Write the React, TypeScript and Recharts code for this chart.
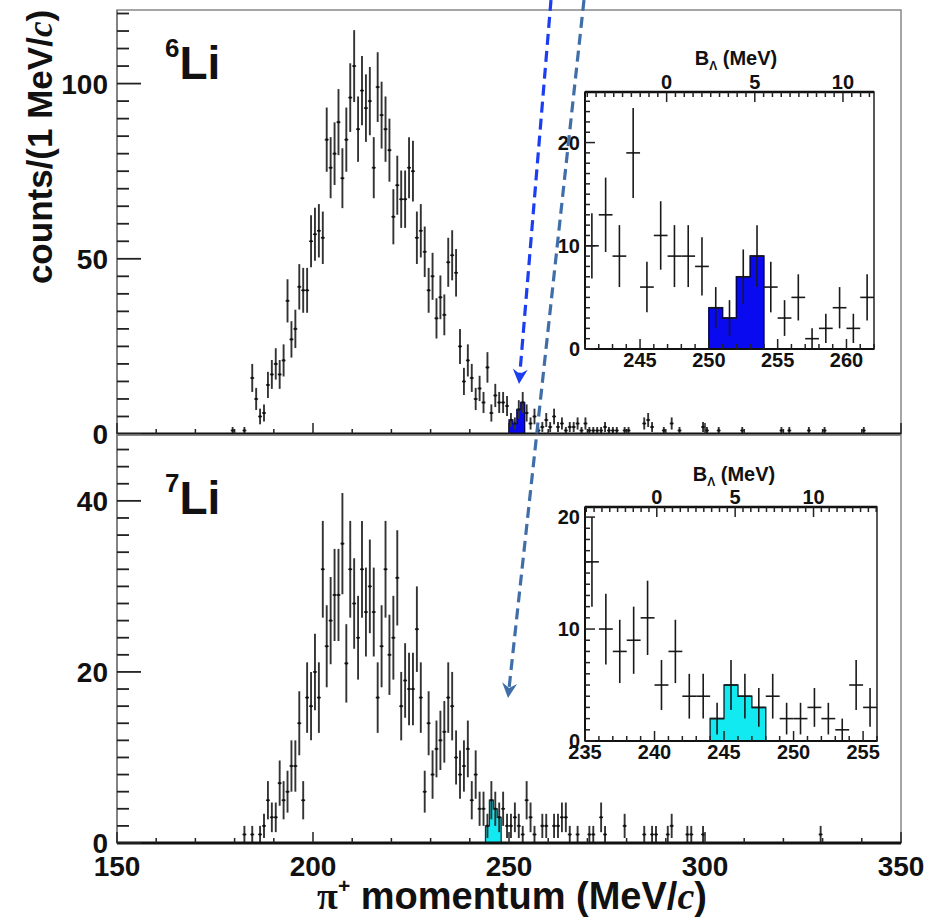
import React from 'react';
import { ComposedChart, Scatter, Area, XAxis, YAxis, ErrorBar, ReferenceArea } from 'recharts';

// pi+ momentum spectra, 1 MeV/c bins: [bin centre (MeV/c), counts]
const li6Spectrum: [number, number][] = [
  [179.5, 1], [182.5, 1], [184.5, 16], [185.5, 10], [186.5, 5], [187.5, 6], [188.5, 14], [189.5, 17],
  [190.5, 20], [191.5, 17], [192.5, 21], [193.5, 38], [194.5, 27], [195.5, 30], [196.5, 42], [197.5, 41],
  [198.5, 41], [199.5, 55], [200.5, 57], [201.5, 58], [202.5, 56], [203.5, 84], [204.5, 76], [205.5, 80],
  [206.5, 89], [207.5, 73], [208.5, 84], [209.5, 96], [210.5, 105], [211.5, 87], [212.5, 98], [213.5, 93],
  [214.5, 95], [215.5, 76], [216.5, 99], [217.5, 91], [218.5, 87], [219.5, 81], [220.5, 62], [221.5, 71],
  [222.5, 67], [223.5, 67], [224.5, 76], [225.5, 75], [226.5, 56], [227.5, 58], [228.5, 52], [229.5, 41],
  [230.5, 45], [231.5, 33], [232.5, 39], [233.5, 34], [234.5, 49], [235.5, 51], [236.5, 46], [237.5, 25],
  [238.5, 15], [239.5, 21], [240.5, 16], [241.5, 10], [242.5, 13], [243.5, 9], [244.5, 19], [245.5, 6],
  [246.5, 11], [247.5, 9], [248.5, 9], [249.5, 8], [250.5, 4], [251.5, 3], [252.5, 7], [253.5, 9],
  [254.5, 6], [255.5, 3], [256.5, 5], [257.5, 1], [258.5, 2], [259.5, 4], [260.5, 2], [261.5, 5],
  [262.5, 2], [263.5, 3], [264.5, 1], [265.5, 2], [266.5, 2], [267.5, 3], [268.5, 1], [269.5, 3],
  [270.5, 1], [271.5, 1], [272.5, 1], [273.5, 1], [274.5, 2], [275.5, 1], [276.5, 1], [277.5, 1],
  [279.5, 1], [280.5, 1], [284.5, 3], [285.5, 4], [286.5, 2], [289.5, 1], [291.5, 3], [293.5, 1],
  [299.5, 2], [300.5, 1], [303.5, 1], [309.5, 1], [319.5, 1], [321.5, 1], [326.5, 1], [330.5, 1],
  [340.5, 1],
];

const li7Spectrum: [number, number][] = [
  [182.5, 1], [184.5, 1], [186.5, 1], [187.5, 2], [188.5, 5], [189.5, 3], [190.5, 3], [191.5, 7],
  [192.5, 5], [193.5, 6], [194.5, 9], [195.5, 9], [196.5, 14], [197.5, 5], [198.5, 17], [199.5, 16],
  [200.5, 20], [201.5, 17], [202.5, 32], [203.5, 23], [204.5, 26], [205.5, 29], [206.5, 29], [207.5, 35],
  [208.5, 21], [209.5, 32], [210.5, 28], [211.5, 24], [212.5, 32], [213.5, 27], [214.5, 30], [215.5, 27],
  [216.5, 17], [217.5, 23], [218.5, 32], [219.5, 22], [220.5, 24], [221.5, 31], [222.5, 16], [223.5, 19],
  [224.5, 18], [225.5, 18], [226.5, 25], [227.5, 17], [228.5, 6], [229.5, 14], [230.5, 8], [231.5, 11],
  [232.5, 12], [233.5, 13], [234.5, 17], [235.5, 16], [236.5, 10], [237.5, 8], [238.5, 9], [239.5, 11],
  [240.5, 5], [241.5, 8], [242.5, 4], [243.5, 4], [244.5, 2], [245.5, 5], [246.5, 4], [247.5, 3],
  [248.5, 4], [249.5, 2], [250.5, 2], [251.5, 3], [252.5, 2], [253.5, 1], [254.5, 5], [255.5, 3],
  [256.5, 1], [258.5, 2], [259.5, 2], [261.5, 2], [262.5, 2], [263.5, 3], [264.5, 3], [265.5, 1],
  [267.5, 1], [270.5, 1], [271.5, 1], [273.5, 3], [274.5, 1], [279.5, 2], [284.5, 1], [286.5, 1],
  [287.5, 1], [290.5, 1], [291.5, 2], [295.5, 1], [296.5, 1], [299.5, 1], [329.5, 1],
];

// bins shaded as the hypernuclear signal
const li6PeakBins = [250.5, 251.5, 252.5, 253.5];
const li7PeakBins = [244.5, 245.5, 246.5, 247.5];

// labelled ticks
const momentumLabels = [150, 200, 250, 300, 350];
const li6CountLabels = [0, 50, 100];
const li7CountLabels = [0, 20, 40];
const li6ZoomMomentumLabels = [245, 250, 255, 260];
const li7ZoomMomentumLabels = [235, 240, 245, 250, 255];
const zoomCountLabels = [0, 10, 20];
const bindingLabels = [0, 5, 10];

const FONT = '"Liberation Sans", Arial, Helvetica, sans-serif';
const SERIF = '"Liberation Serif", "Times New Roman", serif';

const steps = (from: number, to: number, step: number) => {
  const out: number[] = [];
  for (let v = from; v <= to + 1e-9; v += step) out.push(Math.round(v * 1000) / 1000);
  return out;
};

const toPoints = (spec: [number, number][], lo = -Infinity, hi = Infinity) =>
  spec
    .filter(([p]) => p > lo && p < hi)
    .map(([p, n]) => ({ p, n, ey: Math.sqrt(n), ex: 0.5 }));

// step outline of the shaded bins, closed down to zero on both sides
const peakOutline = (spec: [number, number][], bins: number[]) => {
  const counts = bins.map((b) => spec.find(([p]) => p === b)?.[1] ?? 0);
  const pts = [{ p: bins[0] - 0.5, n: 0 }];
  bins.forEach((b, i) => pts.push({ p: b - 0.5, n: counts[i] }));
  const last = bins[bins.length - 1] + 0.5;
  pts.push({ p: last, n: counts[counts.length - 1] });
  pts.push({ p: last, n: 0 });
  return pts;
};

interface TickStyle {
  side: 'left' | 'bottom' | 'top';
  majors: number[];
  majorLen: number;
  minorLen: number;
  fontSize: number;
  gap: number;
  labels: boolean;
  width?: number;
}

const axisTick = (s: TickStyle) => (props: any) => {
  const { x, y, payload } = props;
  const v = payload.value as number;
  const major = s.majors.some((m) => Math.abs(m - v) < 1e-6);
  const len = major ? s.majorLen : s.minorLen;
  const lineProps = { stroke: '#222', strokeWidth: s.width ?? 1.5 };
  const textProps = { fontFamily: FONT, fontWeight: 700, fontSize: s.fontSize, fill: '#111' };
  if (s.side === 'left') {
    return (
      <g>
        <line x1={x} y1={y} x2={x + len} y2={y} {...lineProps} />
        {major && s.labels && (
          <text x={x - s.gap} y={y} dy="0.36em" textAnchor="end" {...textProps}>{v}</text>
        )}
      </g>
    );
  }
  if (s.side === 'top') {
    return (
      <g>
        <line x1={x} y1={y} x2={x} y2={y + len} {...lineProps} />
        {major && s.labels && (
          <text x={x} y={y - s.gap} textAnchor="middle" {...textProps}>{v}</text>
        )}
      </g>
    );
  }
  return (
    <g>
      <line x1={x} y1={y} x2={x} y2={y - len} {...lineProps} />
      {major && s.labels && (
        <text x={x} y={y + s.gap} textAnchor="middle" {...textProps}>{v}</text>
      )}
    </g>
  );
};

const dot = (r: number) => (props: any) => <circle cx={props.cx} cy={props.cy} r={r} fill="#111" />;
const noMark = () => <g />;

interface PanelProps {
  spectrum: [number, number][];
  peak: number[];
  yMax: number;
  yTicks: number[];
  yLabels: number[];
  fill: string;
  edge: string;
  showMomentumLabels: boolean;
  width: number;
  height: number;
  margin: { top: number; right: number; bottom: number; left: number };
  xAxisHeight: number;
}

function MainPanel(p: PanelProps) {
  return (
    <ComposedChart width={p.width} height={p.height} margin={p.margin}>
      <XAxis
        type="number"
        dataKey="p"
        domain={[150, 350]}
        allowDataOverflow
        ticks={steps(150, 350, 10)}
        interval={0}
        tickSize={0}
        tickMargin={0}
        tickLine={false}
        height={p.xAxisHeight}
        axisLine={{ stroke: '#111', strokeWidth: 3 }}
        tick={axisTick({ side: 'bottom', majors: momentumLabels, majorLen: 11, minorLen: 5, fontSize: 28, gap: 33, labels: p.showMomentumLabels })}
      />
      <YAxis
        type="number"
        dataKey="n"
        domain={[0, p.yMax]}
        allowDataOverflow
        ticks={p.yTicks}
        interval={0}
        tickSize={0}
        tickMargin={0}
        tickLine={false}
        width={117}
        axisLine={{ stroke: '#777', strokeWidth: 1.5 }}
        tick={axisTick({ side: 'left', majors: p.yLabels, majorLen: 24, minorLen: 12, fontSize: 28, gap: 9, labels: true, width: 1.8 })}
      />
      <ReferenceArea x1={150} x2={350} y1={0} y2={p.yMax} fill="none" stroke="#888" strokeWidth={1.5} />
      <Area
        data={peakOutline(p.spectrum, p.peak)}
        dataKey="n"
        type="stepAfter"
        fill={p.fill}
        fillOpacity={1}
        stroke={p.edge}
        strokeWidth={1.3}
        dot={false}
        activeDot={false}
        isAnimationActive={false}
      />
      <Scatter data={toPoints(p.spectrum)} dataKey="n" shape={dot(1.3)} isAnimationActive={false}>
        <ErrorBar dataKey="ey" direction="y" width={0} stroke="#333" strokeWidth={1.9} />
        <ErrorBar dataKey="ex" direction="x" width={0} stroke="#333" strokeWidth={1.5} />
      </Scatter>
    </ComposedChart>
  );
}

interface ZoomProps {
  spectrum: [number, number][];
  peak: number[];
  pRange: [number, number];
  pLabels: number[];
  bRange: [number, number];
  yMax: number;
  fill: string;
  edge: string;
  margin: { top: number; right: number; bottom: number; left: number };
  topHeight: number;
  bottomHeight: number;
}

function ZoomPanel(z: ZoomProps) {
  const [lo, hi] = z.pRange;
  return (
    <ComposedChart width={380} height={340} margin={z.margin}>
      <XAxis
        type="number"
        dataKey="p"
        domain={z.pRange}
        allowDataOverflow
        ticks={steps(lo, hi, 1)}
        interval={0}
        tickSize={0}
        tickMargin={0}
        tickLine={false}
        height={z.bottomHeight}
        axisLine={{ stroke: '#111', strokeWidth: 2 }}
        tick={axisTick({ side: 'bottom', majors: z.pLabels, majorLen: 10, minorLen: 5, fontSize: 20, gap: 18, labels: true })}
      />
      <XAxis
        xAxisId="b"
        orientation="top"
        type="number"
        dataKey="b"
        domain={z.bRange}
        allowDataOverflow
        ticks={steps(-4.5, Math.floor(z.bRange[1] * 2) / 2, 0.5)}
        interval={0}
        tickSize={0}
        tickMargin={0}
        tickLine={false}
        height={z.topHeight}
        axisLine={{ stroke: '#111', strokeWidth: 2.5 }}
        tick={axisTick({ side: 'top', majors: bindingLabels, majorLen: 10, minorLen: 5, fontSize: 20, gap: 3, labels: true })}
      />
      <YAxis
        type="number"
        dataKey="n"
        domain={[0, z.yMax]}
        allowDataOverflow
        ticks={steps(0, Math.floor(z.yMax), 1)}
        interval={0}
        tickSize={0}
        tickMargin={0}
        tickLine={false}
        width={65}
        axisLine={{ stroke: '#111', strokeWidth: 2 }}
        tick={axisTick({ side: 'left', majors: zoomCountLabels, majorLen: 10, minorLen: 5, fontSize: 20, gap: 5, labels: true })}
      />
      <ReferenceArea x1={lo} x2={hi} y1={0} y2={z.yMax} fill="#fff" fillOpacity={1} stroke="#222" strokeWidth={1.5} />
      {/* binding-energy scale: unmarked series that binds the top axis */}
      <Scatter
        xAxisId="b"
        data={bindingLabels.map((b) => ({ b, n: 0 }))}
        dataKey="n"
        shape={noMark}
        isAnimationActive={false}
      />
      <Area
        data={peakOutline(z.spectrum, z.peak)}
        dataKey="n"
        type="stepAfter"
        fill={z.fill}
        fillOpacity={1}
        stroke={z.edge}
        strokeWidth={1.5}
        dot={false}
        activeDot={false}
        isAnimationActive={false}
      />
      <Scatter data={toPoints(z.spectrum, lo, hi)} dataKey="n" shape={dot(0.8)} isAnimationActive={false}>
        <ErrorBar dataKey="ey" direction="y" width={0} stroke="#1a1a1a" strokeWidth={1.6} />
        <ErrorBar dataKey="ex" direction="x" width={0} stroke="#1a1a1a" strokeWidth={1.6} />
      </Scatter>
    </ComposedChart>
  );
}

// dashed pointer arrows drawn over both panels
const arrows = [
  { from: [551, 0], to: [519, 384], color: '#1b3ef2' },
  { from: [584, 0], to: [508, 698], color: '#3f6ea8' },
];

function Arrow({ from, to, color }: { from: number[]; to: number[]; color: string }) {
  const dx = to[0] - from[0];
  const dy = to[1] - from[1];
  const len = Math.hypot(dx, dy);
  const ux = dx / len;
  const uy = dy / len;
  const angle = (Math.atan2(dy, dx) * 180) / Math.PI - 90;
  return (
    <g>
      <line
        x1={from[0]}
        y1={from[1]}
        x2={to[0] - ux * 9}
        y2={to[1] - uy * 9}
        stroke={color}
        strokeWidth={3.2}
        strokeDasharray="11 6"
      />
      <path d="M0,0 L-7.5,-15 L0,-10 L7.5,-15 Z" fill={color} transform={`translate(${to[0]},${to[1]}) rotate(${angle})`} />
    </g>
  );
}

export default function App() {
  const title = { fontFamily: FONT, fontWeight: 700, fill: '#111' };
  return (
    <div style={{ position: 'absolute', left: 0, top: 0, width: 936, height: 917, background: '#fff', overflow: 'hidden' }}>
      <div style={{ position: 'absolute', left: 0, top: 0 }}>
        <MainPanel
          spectrum={li6Spectrum}
          peak={li6PeakBins}
          yMax={121}
          yTicks={steps(0, 120, 5)}
          yLabels={li6CountLabels}
          fill="#0a0af0"
          edge="#00005a"
          showMomentumLabels={false}
          width={936}
          height={460}
          margin={{ top: 10, right: 35, bottom: 20, left: 0 }}
          xAxisHeight={6}
        />
      </div>
      <div style={{ position: 'absolute', left: 0, top: 430 }}>
        <MainPanel
          spectrum={li7Spectrum}
          peak={li7PeakBins}
          yMax={47.7}
          yTicks={steps(0, 46, 2)}
          yLabels={li7CountLabels}
          fill="#12eaf2"
          edge="#0b3c46"
          showMomentumLabels
          width={936}
          height={487}
          margin={{ top: 5, right: 35, bottom: 0, left: 0 }}
          xAxisHeight={74}
        />
      </div>
      <div style={{ position: 'absolute', left: 520, top: 40 }}>
        <ZoomPanel
          spectrum={li6Spectrum}
          peak={li6PeakBins}
          pRange={[241, 262]}
          pLabels={li6ZoomMomentumLabels}
          bRange={[-4.63, 11.76]}
          yMax={24.9}
          fill="#0a0af0"
          edge="#00005a"
          margin={{ top: 2, right: 26, bottom: 0, left: 0 }}
          topHeight={50}
          bottomHeight={31}
        />
      </div>
      <div style={{ position: 'absolute', left: 520, top: 440 }}>
        <ZoomPanel
          spectrum={li7Spectrum}
          peak={li7PeakBins}
          pRange={[235, 256]}
          pLabels={li7ZoomMomentumLabels}
          bRange={[-4.58, 14.05]}
          yMax={20.9}
          fill="#12eaf2"
          edge="#0b3c46"
          margin={{ top: 7, right: 23, bottom: 0, left: 0 }}
          topHeight={60}
          bottomHeight={39}
        />
      </div>
      <svg width={936} height={917} style={{ position: 'absolute', left: 0, top: 0, pointerEvents: 'none' }}>
        <text transform="translate(52,147) rotate(-90)" textAnchor="middle" fontSize={35} {...title}>
          counts/(1 MeV/<tspan fontFamily={SERIF} fontStyle="italic">c</tspan>)
        </text>
        <text x={512} y={909} textAnchor="middle" fontSize={38} {...title}>
          <tspan fontFamily={SERIF}>π</tspan>
          <tspan fontSize={21} dy={-16}>+</tspan>
          <tspan dy={16}> momentum (MeV/</tspan>
          <tspan fontFamily={SERIF} fontStyle="italic">c</tspan>)
        </text>
        <text x={165} y={79} fontSize={46} {...title}>
          <tspan fontSize={26} dy={-22}>6</tspan>
          <tspan dy={22}>Li</tspan>
        </text>
        <text x={165} y={514} fontSize={46} {...title}>
          <tspan fontSize={26} dy={-22}>7</tspan>
          <tspan dy={22}>Li</tspan>
        </text>
        <text x={736} y={65} textAnchor="middle" fontSize={20} {...title}>
          B<tspan fontSize={12} dy={5}>Λ</tspan>
          <tspan dy={-5}> (MeV)</tspan>
        </text>
        <text x={734} y={481} textAnchor="middle" fontSize={20} {...title}>
          B<tspan fontSize={12} dy={5}>Λ</tspan>
          <tspan dy={-5}> (MeV)</tspan>
        </text>
        {arrows.map((a, i) => (
          <Arrow key={i} {...a} />
        ))}
      </svg>
    </div>
  );
}
